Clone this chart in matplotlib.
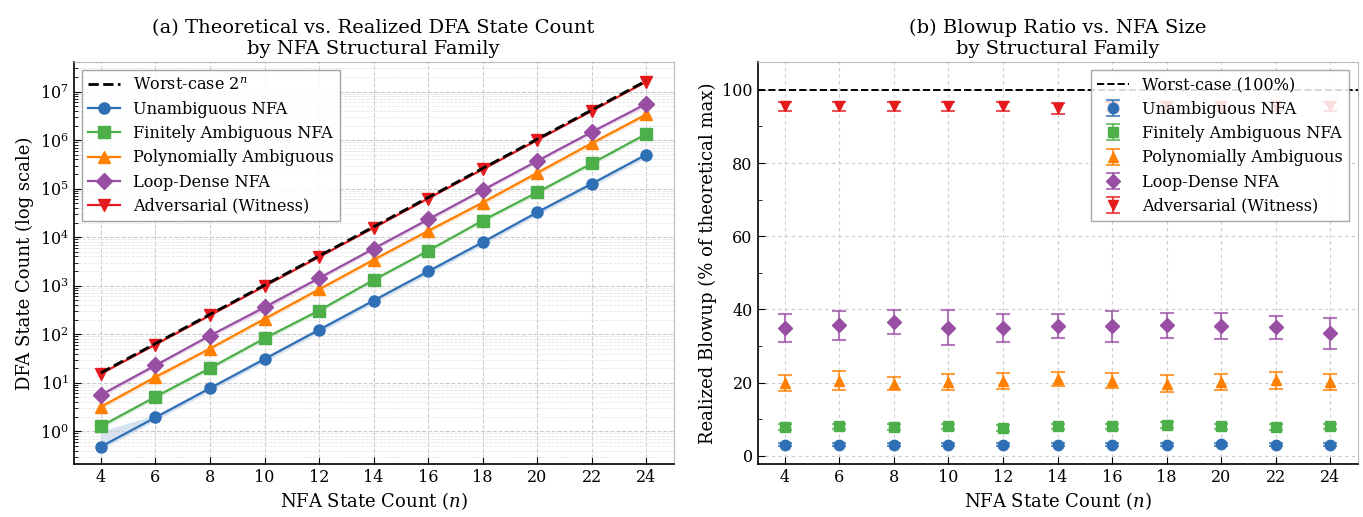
import numpy as np
import matplotlib
matplotlib.use("Agg")
import matplotlib.pyplot as plt
from matplotlib.ticker import MultipleLocator, LogLocator, NullFormatter, FixedLocator

plt.rcParams['font.family'] = ['DejaVu Serif']
plt.rcParams['mathtext.fontset'] = 'dejavuserif'

n_states = [4, 6, 8, 10, 12, 14, 16, 18, 20, 22, 24]
families = ["Unambiguous NFA", "Finitely Ambiguous NFA", "Polynomially Ambiguous",
            "Loop-Dense NFA", "Adversarial (Witness)"]
colors = ["#2f6fb5", "#4daf4a", "#ff7f00", "#984ea3", "#e41a1c"]
markers = ["o", "s", "^", "D", "v"]
log_ticks = [1e0, 1e1, 1e2, 1e3, 1e4, 1e5, 1e6, 1e7]

# Realized blowup (% of theoretical 2^n) and its spread
pct_unamb = [3.0, 3.0, 3.0, 3.0, 3.0, 3.0, 3.0, 3.0, 3.1, 3.0, 3.0]
err_unamb = [0.4, 0.4, 0.4, 0.4, 0.4, 0.4, 0.4, 0.4, 0.4, 0.4, 0.4]
pct_finite = [7.9, 8.0, 7.8, 8.0, 7.5, 8.0, 8.0, 8.4, 8.0, 7.9, 8.0]
err_finite = [0.8, 0.8, 0.8, 0.8, 0.8, 0.7, 0.7, 0.8, 0.8, 0.8, 0.7]
pct_poly = [19.9, 20.5, 19.7, 20.2, 20.5, 20.9, 20.5, 19.7, 20.2, 20.6, 20.2]
err_poly = [2.1, 2.6, 1.7, 2.2, 2.2, 1.9, 2.1, 2.4, 2.2, 2.3, 2.2]
pct_loop = [35.0, 35.6, 36.5, 35.0, 34.9, 35.4, 35.4, 35.6, 35.5, 35.1, 33.5]
err_loop = [3.8, 3.9, 3.3, 4.8, 3.7, 3.3, 4.2, 3.3, 3.6, 3.1, 4.2]
pct_adv = [95.5, 95.5, 95.5, 95.5, 95.5, 95.0, 95.5, 95.5, 95.5, 95.5, 95.5]
err_adv = [1.3, 1.3, 1.3, 1.3, 1.3, 1.5, 1.3, 1.3, 1.3, 1.3, 1.3]

pcts = [pct_unamb, pct_finite, pct_poly, pct_loop, pct_adv]
errs = [err_unamb, err_finite, err_poly, err_loop, err_adv]

n = np.array(n_states, dtype=float)
worst = 2.0 ** n

fig, (ax1, ax2) = plt.subplots(1, 2, figsize=(13.63, 5.17), dpi=100)
fig.subplots_adjust(left=0.054, right=0.996, bottom=0.103, top=0.88, wspace=0.14)

grid_kw = dict(color="#cccccc", linestyle="--", linewidth=0.8)

# ---- Panel (a)
ax1.plot(n, worst, color="black", linestyle="--", linewidth=2, label="Worst-case $2^n$", zorder=5)
for fam, c, m, p, e in zip(families, colors, markers, pcts, errs):
    p = np.array(p); e = np.array(e)
    mean = p / 100 * worst
    lo = (p - e) / 100 * worst
    hi = np.maximum((p + e) / 100 * worst, 1.0)
    ax1.fill_between(n, lo, hi, color=c, alpha=0.2, linewidth=0)
    ax1.plot(n, mean, color=c, marker=m, markersize=8, linewidth=1.6, label=fam, zorder=4)
ax1.set_yscale("log")
ax1.set_ylim(10 ** -0.67, 10 ** 7.61)
ax1.set_xticks(n_states)
ax1.yaxis.set_major_locator(FixedLocator(log_ticks))
minor = [k * d for d in [0.1] + log_ticks for k in range(2, 10)]
minor = [v for v in minor if 10 ** -0.67 <= v <= 10 ** 7.61]
ax1.yaxis.set_minor_locator(FixedLocator(minor))
ax1.yaxis.set_minor_formatter(NullFormatter())
ax1.grid(True, which="major", **grid_kw)
ax1.grid(True, which="minor", axis="y", color="#e6e6e6", linestyle="--", linewidth=0.6)
ax1.set_xlabel("NFA State Count ($n$)", fontsize=13, labelpad=3)
ax1.set_ylabel("DFA State Count (log scale)", fontsize=13)
ax1.set_title("(a) Theoretical vs. Realized DFA State Count\nby NFA Structural Family", fontsize=14)
ax1.legend(loc="upper left", fontsize=11.6, framealpha=0.9, edgecolor="#999999",
           fancybox=False, labelspacing=0.45)

# ---- Panel (b)
ax2.axhline(100, color="black", linestyle="--", linewidth=1.4, label="Worst-case (100%)")
for fam, c, m, p, e in zip(families, colors, markers, pcts, errs):
    eb = ax2.errorbar(n, p, yerr=e, fmt=m, color=c, markersize=7.5, capsize=5,
                      elinewidth=1.5, capthick=1.5, ecolor=c, label=fam)
    for part in eb[1] + eb[2]:
        part.set_alpha(0.75)
ax2.set_xticks(n_states)
ax2.set_ylim(-2.2, 107.6)
ax2.yaxis.set_major_locator(FixedLocator([0, 20, 40, 60, 80, 100]))
ax2.yaxis.set_minor_locator(FixedLocator([10, 30, 50, 70, 90]))
ax2.grid(True, which="major", color="#cccccc", linestyle=(0, (3, 3)), linewidth=0.8)
ax2.set_xlabel("NFA State Count ($n$)", fontsize=13, labelpad=3)
ax2.set_ylabel("Realized Blowup (% of theoretical max)", fontsize=13)
ax2.set_title("(b) Blowup Ratio vs. NFA Size\nby Structural Family", fontsize=14)
ax2.legend(loc="upper right", fontsize=11.6, framealpha=0.85, edgecolor="#999999",
           fancybox=False, labelspacing=0.45)

for ax in (ax1, ax2):
    ax.tick_params(direction="in", which="both", labelsize=11.5)
    ax.tick_params(which="major", length=5)
    ax.tick_params(which="minor", length=3)
    ax.spines["top"].set_color("#bbbbbb")
    ax.spines["right"].set_color("#bbbbbb")
    ax.spines["left"].set_linewidth(1.2)
    ax.spines["bottom"].set_linewidth(1.2)

fig.savefig("out.png", dpi=100)
